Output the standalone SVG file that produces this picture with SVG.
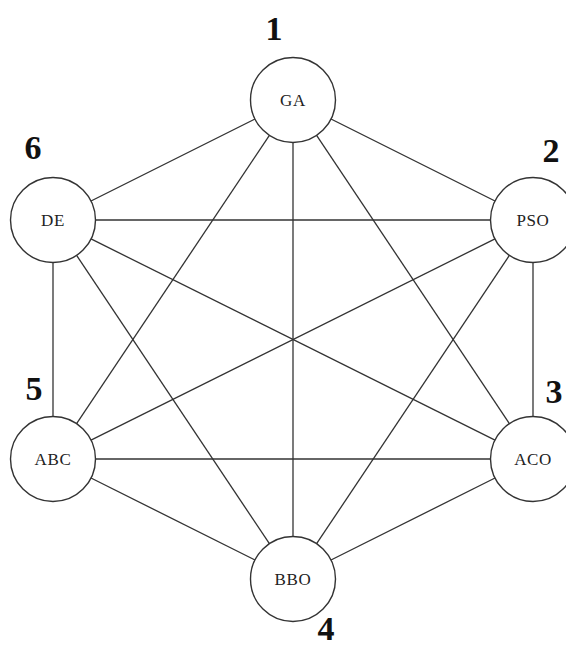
<svg xmlns="http://www.w3.org/2000/svg" width="566" height="650" viewBox="0 0 566 650">
<style>
.edge{stroke:#333;stroke-width:1.3;fill:none}
.node circle{fill:#fff;stroke:#333;stroke-width:1.4}
.node text{font-family:"Liberation Serif","DejaVu Serif",serif;font-size:17px;fill:#222;text-anchor:middle;letter-spacing:0.6px}
.num{font-family:"Liberation Serif","DejaVu Serif",serif;font-size:34px;font-weight:bold;fill:#111;text-anchor:middle}
</style>
<rect width="566" height="650" fill="#fff"/>
<g id="connectors">
<line class="edge" x1="331" y1="119" x2="495" y2="201"/>
<line class="edge" x1="316.6" y1="135.3" x2="509.4" y2="423.7"/>
<line class="edge" x1="293" y1="142.5" x2="293" y2="536.5"/>
<line class="edge" x1="269.4" y1="135.3" x2="76.6" y2="423.7"/>
<line class="edge" x1="255" y1="119" x2="91" y2="201"/>
<line class="edge" x1="533" y1="262.5" x2="533" y2="416.5"/>
<line class="edge" x1="509.4" y1="255.3" x2="316.6" y2="543.7"/>
<line class="edge" x1="495" y1="238.9" x2="91" y2="440.1"/>
<line class="edge" x1="490.5" y1="220" x2="95.5" y2="220"/>
<line class="edge" x1="495" y1="478" x2="331" y2="560"/>
<line class="edge" x1="490.5" y1="459" x2="95.5" y2="459"/>
<line class="edge" x1="495" y1="440.1" x2="91" y2="238.9"/>
<line class="edge" x1="255" y1="560" x2="91" y2="478"/>
<line class="edge" x1="269.4" y1="543.7" x2="76.6" y2="255.3"/>
<line class="edge" x1="53" y1="416.5" x2="53" y2="262.5"/>
</g>
<g id="node-GA" class="node"><circle cx="293" cy="100" r="42.5"/><text x="293" y="106">GA</text></g>
<g id="node-PSO" class="node"><circle cx="533" cy="220" r="42.5"/><text x="533" y="226">PSO</text></g>
<g id="node-ACO" class="node"><circle cx="533" cy="459" r="42.5"/><text x="533" y="465">ACO</text></g>
<g id="node-BBO" class="node"><circle cx="293" cy="579" r="42.5"/><text x="293" y="585">BBO</text></g>
<g id="node-ABC" class="node"><circle cx="53" cy="459" r="42.5"/><text x="53" y="465">ABC</text></g>
<g id="node-DE" class="node"><circle cx="53" cy="220" r="42.5"/><text x="53" y="226">DE</text></g>
<g id="labels">
<text class="num" x="274" y="40">1</text>
<text class="num" x="551" y="162">2</text>
<text class="num" x="554" y="403">3</text>
<text class="num" x="326" y="640">4</text>
<text class="num" x="34" y="400">5</text>
<text class="num" x="33" y="159">6</text>
</g>
</svg>
